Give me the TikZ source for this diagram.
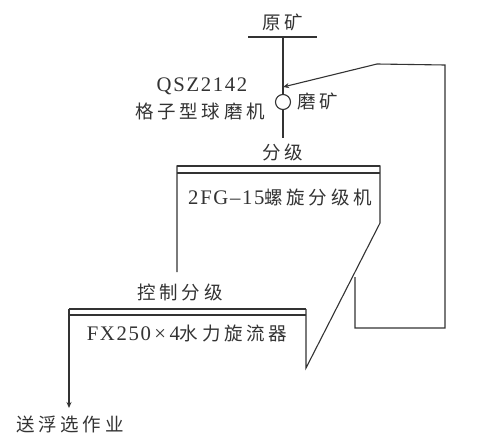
\documentclass[tikz,border=0pt]{standalone}
\usepackage{fontspec}
\setmainfont{Liberation Serif}[LetterSpace=8,Scale=1.12]
\newfontfamily\cjk{Noto Sans CJK SC}[LetterSpace=20]
\usetikzlibrary{arrows.meta}
\definecolor{ink}{HTML}{333333}
\tikzset{
  lbl/.style={font=\fontsize{18.5}{20}\selectfont, text=ink, inner sep=0pt},
  ln/.style={draw=ink, line width=1.1pt},
  thick line/.style={draw=ink, line width=2pt},
  arr/.style={ln, -{Stealth[length=6pt,width=5pt]}}
}
\begin{document}
\begin{tikzpicture}[x=1pt,y=-1pt]
\useasboundingbox (0,0) rectangle (478,439);
% labels
\node[lbl] (ore) at (283,22) {\cjk 原矿};
\node[lbl] (qsz) at (202,86) {QSZ2142};
\node[lbl] (millname) at (200,111) {\cjk 格子型球磨机};
\node[lbl] (grind) at (318,101) {\cjk 磨矿};
\node[lbl] (cls) at (283,152) {\cjk 分级};
\node[lbl] (spiral) at (280,197) {2FG–15{\cjk 螺旋分级机}};
\node[lbl] (ctrl) at (180,292) {\cjk 控制分级};
\node[lbl] (cyc) at (187,333) {FX250\,×\,4{\cjk 水力旋流器}};
\node[lbl] (flot) at (70,424) {\cjk 送浮选作业};
% feed
\coordinate (feedL) at (248,37);
\coordinate (feedR) at (317,37);
\coordinate (feedC) at (283,37);
\draw[ln] (feedL) -- (feedR);
\node[circle, draw=ink, line width=1.1pt, minimum size=15pt, inner sep=0pt] (mill) at (283,102) {};
\draw[ln] (feedC) -- (mill.north);
\coordinate (millout) at (283,138);
\draw[ln] (mill.south) -- (millout);
% spiral classifier
\coordinate (sTL) at (177,166);
\coordinate (sTR) at (380,166);
\coordinate (sBL) at (177,272);
\coordinate (sK) at (380,223);
\coordinate (sTip) at (306,368);
\coordinate (cTR) at (306,309);
\draw[thick line] (sTL) -- (sTR);
\draw[ln] (177,173) -- (380,173);
\draw[ln, line join=miter] (sBL) -- (sTL) -- (sTR) -- (sK) -- (sTip) -- (cTR);
% hydrocyclone
\coordinate (cTL) at (69,309);
\coordinate (out) at (69,408);
\draw[thick line] (cTL) -- (cTR);
\draw[ln] (69,315) -- (306,315);
\draw[arr] (cTL) -- (out);
% return loop
\coordinate (r1) at (355,277);
\coordinate (r2) at (355,328);
\coordinate (r3) at (445,328);
\coordinate (r4) at (445,65);
\coordinate (r5) at (377,64);
\coordinate (rin) at (283,87);
\draw[ln] (r1) -- (r2) -- (r3) -- (r4) -- (r5);
\draw[arr] (r5) -- (rin);
\end{tikzpicture}
\end{document}
